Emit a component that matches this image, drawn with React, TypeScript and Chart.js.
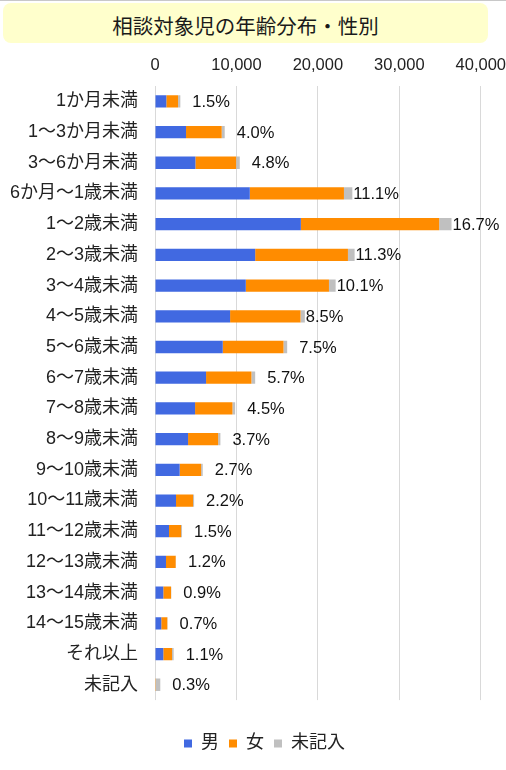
import React, { useEffect, useRef } from 'react';
import { Chart, registerables } from 'chart.js';

Chart.register(...registerables);

const categories = [
  '1か月未満',
  '1～3か月未満',
  '3～6か月未満',
  '6か月～1歳未満',
  '1～2歳未満',
  '2～3歳未満',
  '3～4歳未満',
  '4～5歳未満',
  '5～6歳未満',
  '6～7歳未満',
  '7～8歳未満',
  '8～9歳未満',
  '9～10歳未満',
  '10～11歳未満',
  '11～12歳未満',
  '12～13歳未満',
  '13～14歳未満',
  '14～15歳未満',
  'それ以上',
  '未記入',
];

const male = [1390, 3810, 4960, 11640, 17910, 12300, 11150, 9220, 8320, 6270, 4920, 4060, 3030, 2580, 1720, 1350, 1020, 770, 1020, 0];
const female = [1440, 4380, 5000, 11560, 16980, 11390, 10210, 8650, 7460, 5570, 4590, 3690, 2630, 2090, 1480, 1190, 950, 740, 1070, 100];
const unknown = [280, 370, 450, 1030, 1520, 820, 820, 530, 450, 460, 330, 280, 200, 130, 120, 40, 30, 40, 200, 550];

const percentLabels = ['1.5%', '4.0%', '4.8%', '11.1%', '16.7%', '11.3%', '10.1%', '8.5%', '7.5%', '5.7%', '4.5%', '3.7%', '2.7%', '2.2%', '1.5%', '1.2%', '0.9%', '0.7%', '1.1%', '0.3%'];

const xTicks = [0, 10000, 20000, 30000, 40000];

const seriesNames = ['男', '女', '未記入'];
const seriesColors = ['#4169E1', '#FF8C00', '#C0C0C0'];

const TITLE = '相談対象児の年齢分布・性別';
const FONT = '"Liberation Sans", "Noto Sans CJK JP", sans-serif';

const pctPlugin = {
  id: 'pctLabels',
  afterDatasetsDraw(chart: any) {
    const ctx = chart.ctx;
    const xs = chart.scales.x;
    const meta = chart.getDatasetMeta(0);
    ctx.save();
    ctx.font = `16.5px ${FONT}`;
    ctx.fillStyle = '#111';
    ctx.textBaseline = 'middle';
    ctx.textAlign = 'left';
    categories.forEach((_c, i) => {
      const total = male[i] + female[i] + unknown[i];
      const end = xs.getPixelForValue(total);
      const gap = total >= 17000 ? 1 : 12;
      const y = meta.data[i].y;
      ctx.fillText(percentLabels[i], end + gap, y + 1);
    });
    ctx.restore();
  },
};

const legendShift = {
  id: 'legendShift',
  afterLayout(chart: any) {
    const lg = chart.legend;
    if (lg) {
      lg.left += 12;
      lg.right += 12;
    }
  },
};

export default function App() {
  const canvasRef = useRef<HTMLCanvasElement | null>(null);

  useEffect(() => {
    if (!canvasRef.current) return;
    const seriesData = [male, female, unknown];
    const chart = new Chart(canvasRef.current, {
      type: 'bar',
      data: {
        labels: categories,
        datasets: seriesNames.map((name, k) => ({
          label: name,
          data: seriesData[k],
          backgroundColor: seriesColors[k],
          borderWidth: 0,
          barPercentage: 0.4,
          categoryPercentage: 1,
        })),
      },
      options: {
        indexAxis: 'y',
        responsive: false,
        animation: false,
        layout: { padding: { top: 50, left: 0, right: 1, bottom: 7.5 } },
        scales: {
          x: {
            type: 'linear',
            position: 'top',
            stacked: true,
            min: 0,
            max: 40000,
            afterBuildTicks: (s: any) => {
              s.ticks = xTicks.map((v) => ({ value: v }));
            },
            afterFit: (s: any) => {
              s.height = 36;
            },
            ticks: {
              padding: 0,
              color: '#222',
              font: { family: FONT, size: 16.5, lineHeight: 2.5 },
              callback: (v: any) => Number(v).toLocaleString('en-US'),
              maxRotation: 0,
            },
            grid: { color: '#d9d9d9', lineWidth: 1, drawTicks: false },
            border: { display: false },
          },
          y: {
            stacked: true,
            afterFit: (s: any) => {
              s.width = 155;
            },
            ticks: {
              padding: 17,
              color: '#222',
              autoSkip: false,
              font: { family: FONT, size: 18 },
            },
            grid: { display: false, drawTicks: false },
            border: { display: false },
          },
        },
        plugins: {
          legend: {
            position: 'bottom',
            labels: {
              boxWidth: 8,
              boxHeight: 8,
              padding: 10,
              color: '#222',
              font: { family: FONT, size: 18 },
            },
            title: { display: true, text: '', padding: { top: 10, bottom: 0 }, font: { size: 12 } },
          },
          tooltip: { enabled: false },
        },
      },
      plugins: [pctPlugin, legendShift],
    } as any);
    return () => chart.destroy();
  }, []);

  return (
    <div
      style={{
        position: 'fixed',
        left: 0,
        top: 0,
        width: 506,
        height: 770,
        background: '#fff',
        overflow: 'hidden',
      }}
    >
      <div style={{ position: 'absolute', left: 0, top: 0, width: 506, height: 1, background: '#c8c8c8' }} />
      <canvas ref={canvasRef} width={506} height={770} style={{ position: 'absolute', left: 0, top: 0 }} />
      <div
        style={{
          position: 'absolute',
          left: 3,
          top: 3,
          width: 485,
          height: 40,
          background: '#FFFFCC',
          borderRadius: 8,
          display: 'flex',
          alignItems: 'center',
          justifyContent: 'center',
          fontFamily: '"Noto Sans CJK JP", sans-serif',
          fontSize: 20.5,
          color: '#1a1a1a',
          paddingTop: 3,
          boxSizing: 'border-box',
        }}
      >
        {TITLE}
      </div>
    </div>
  );
}
